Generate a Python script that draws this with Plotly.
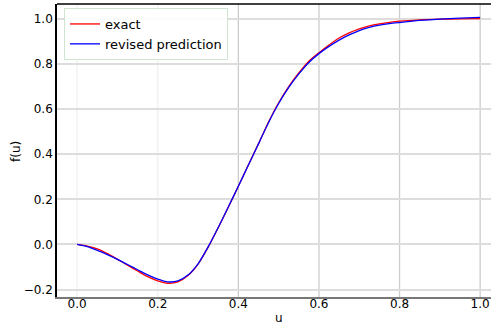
import plotly.graph_objects as go

u_vals = [0.0, 0.025, 0.05, 0.075, 0.1, 0.125, 0.15, 0.175, 0.2, 0.225, 0.25, 0.275,
          0.3, 0.325, 0.35, 0.375, 0.4, 0.425, 0.45, 0.475, 0.5, 0.525, 0.55, 0.575,
          0.6, 0.625, 0.65, 0.675, 0.7, 0.725, 0.75, 0.775, 0.8, 0.85, 0.9, 0.95, 1.0]
exact_vals = [0.0, -0.007, -0.020, -0.041, -0.066, -0.092, -0.118, -0.143, -0.161, -0.172,
              -0.166, -0.138, -0.087, -0.012, 0.074, 0.165, 0.258, 0.353, 0.447, 0.543,
              0.628, 0.700, 0.760, 0.812, 0.850, 0.884, 0.915, 0.938, 0.956, 0.969,
              0.978, 0.985, 0.990, 0.996, 0.999, 1.000, 1.001]
pred_vals = [0.0, -0.010, -0.026, -0.045, -0.066, -0.089, -0.112, -0.135, -0.154, -0.166,
             -0.162, -0.136, -0.086, -0.011, 0.075, 0.166, 0.258, 0.352, 0.446, 0.541,
             0.625, 0.696, 0.756, 0.807, 0.846, 0.878, 0.906, 0.929, 0.948, 0.962,
             0.972, 0.979, 0.984, 0.993, 0.999, 1.003, 1.007]
x_ticks = [0.0, 0.2, 0.4, 0.6, 0.8, 1.0]
y_ticks = [-0.2, 0.0, 0.2, 0.4, 0.6, 0.8, 1.0]
faint_x_grid = [0.0, 0.2]

FONT = "DejaVu Sans"
L, R, T, B = 57, 0, 4, 30
W, H = 491, 327

fig = go.Figure()
fig.add_trace(go.Scatter(x=u_vals, y=exact_vals, mode="lines", name="exact",
                         line=dict(color="#ff0000", width=1.3, shape="spline", smoothing=0.8)))
fig.add_trace(go.Scatter(x=u_vals, y=pred_vals, mode="lines", name="revised prediction",
                         line=dict(color="#0000ff", width=1.3, shape="spline", smoothing=0.8)))

shapes = []
for xv in x_ticks:
    col = "#f0f0f0" if xv in faint_x_grid else "#cccccc"
    shapes.append(dict(type="line", xref="x", yref="paper", x0=xv, x1=xv, y0=0, y1=1,
                       line=dict(color=col, width=1.3), layer="below"))
# top spine
shapes.append(dict(type="line", xref="paper", yref="paper", x0=0, x1=1, y0=1, y1=1,
                   line=dict(color="#000000", width=1.6)))

fig.update_layout(
    width=W, height=H,
    margin=dict(l=L, r=R, t=T, b=B, pad=0),
    paper_bgcolor="white", plot_bgcolor="white",
    font=dict(family=FONT, size=12, color="#000000"),
    showlegend=True,
    legend=dict(x=(64 - L) / (W - L), y=1 - (8 - T) / (H - T - B), xanchor="left", yanchor="top",
                bgcolor="rgba(255,255,255,0.9)", bordercolor="#cfe5cf", borderwidth=1,
                font=dict(family=FONT, size=13, color="#000000"), tracegroupgap=0),
    xaxis=dict(range=[-0.05, -0.05 + (W - L) / 403.0], tickvals=x_ticks,
               ticktext=[f"{v:.1f}" for v in x_ticks],
               showgrid=False, zeroline=False, showline=True, linecolor="#777777", linewidth=2,
               ticks="", ticklen=0, ticklabelstandoff=-5,
               tickfont=dict(family=FONT, size=12, color="#000000")),
    yaxis=dict(range=[-0.233, 1.066], tickvals=y_ticks,
               ticktext=[f"{v:.1f}".replace("-", "\u2212") for v in y_ticks],
               showgrid=True, gridcolor="#dddddd", gridwidth=2, zeroline=False,
               showline=True, linecolor="#000000", linewidth=1.6,
               ticks="", ticklen=0, tickfont=dict(family=FONT, size=12, color="#000000")),
    shapes=shapes,
    annotations=[
        dict(text="u", xref="paper", yref="paper", x=(279 - L) / (W - L), y=(297 - 318) / (H - T - B),
             xanchor="center", yanchor="middle", showarrow=False,
             font=dict(family=FONT, size=12, color="#000000")),
        dict(text="f(u)", xref="paper", yref="paper", x=(16 - L) / (W - L), y=(297 - 152) / (H - T - B),
             xanchor="center", yanchor="middle", textangle=-90, showarrow=False,
             font=dict(family=FONT, size=12, color="#000000")),
    ],
)

fig.write_html("out.html", config={"displayModeBar": False},
               post_script="document.body.style.margin='0px';document.body.style.overflow='hidden';")
